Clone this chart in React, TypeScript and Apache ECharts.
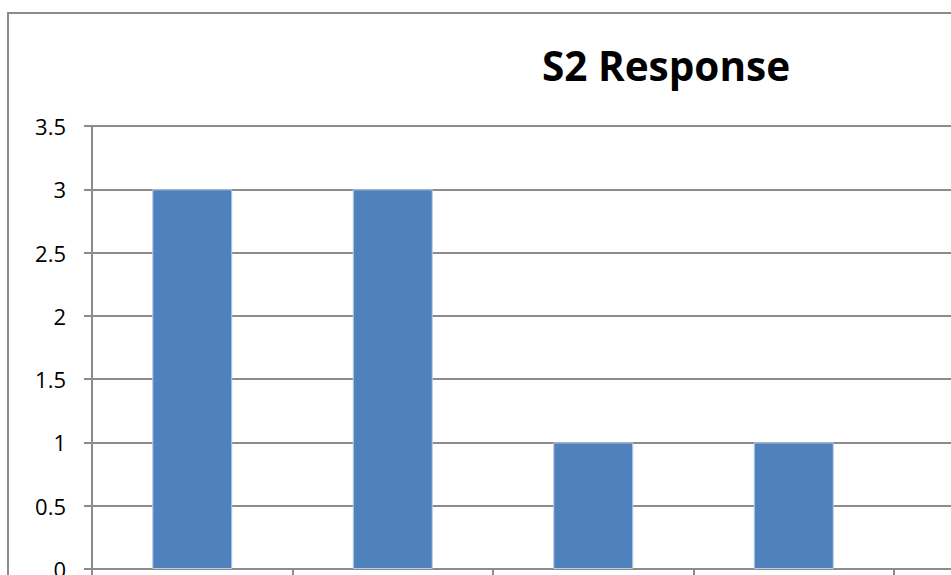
import React, { useEffect, useRef } from "react";
import * as echarts from "echarts";

const categories = ["1", "2", "3", "4", "5"];
const responses = [3, 3, 1, 1, 0];
const titleText = "S2 Response";

const W = 1320;
const H = 640;

export default function App() {
  const ref = useRef<HTMLDivElement>(null);
  useEffect(() => {
    if (!ref.current) return;
    const chart = echarts.init(ref.current, undefined, { renderer: "svg" });
    const gray = "#8c8c8c";
    chart.setOption({
      animation: false,
      backgroundColor: "#fff",
      graphic: [
        {
          type: "rect",
          shape: { x: 1, y: 1, width: W - 2, height: H - 2 },
          style: { fill: "none", stroke: gray, lineWidth: 2 },
          silent: true,
        },
        {
          type: "text",
          x: 659,
          y: 53,
          style: {
            text: titleText,
            font: "bold 40.5px 'Open Sans', sans-serif",
            fill: "#000",
            textAlign: "center",
            textVerticalAlign: "middle",
          },
        },
      ],
      grid: { left: 85, top: 114, width: 1002.5, height: 443, containLabel: false },
      xAxis: {
        type: "category",
        data: categories,
        axisLine: { lineStyle: { color: gray, width: 2 } },
        axisTick: { show: true, length: 8, lineStyle: { color: gray, width: 2 } },
        axisLabel: { fontSize: 22, color: "#000", margin: 20, fontFamily: "'Open Sans', sans-serif" },
      },
      yAxis: {
        type: "value",
        min: 0,
        max: 3.5,
        interval: 0.5,
        axisLine: { show: true, lineStyle: { color: gray, width: 2 } },
        axisTick: { show: true, length: 8, lineStyle: { color: gray, width: 2 } },
        splitLine: { lineStyle: { color: gray, width: 2 } },
        axisLabel: { fontSize: 22, color: "#000", margin: 26, fontFamily: "'Open Sans', sans-serif" },
      },
      series: [
        {
          type: "bar",
          data: responses,
          barWidth: 80,
          itemStyle: { color: "#4f81bd", borderColor: "#b9cde5", borderWidth: 1 },
        },
      ],
    });
    return () => chart.dispose();
  }, []);
  return (
    <div style={{ position: "fixed", left: 0, top: 0, width: 951, height: 575, overflow: "hidden", background: "#fff" }}>
      <div ref={ref} style={{ position: "absolute", left: 7, top: 12, width: W, height: H }} />
    </div>
  );
}
